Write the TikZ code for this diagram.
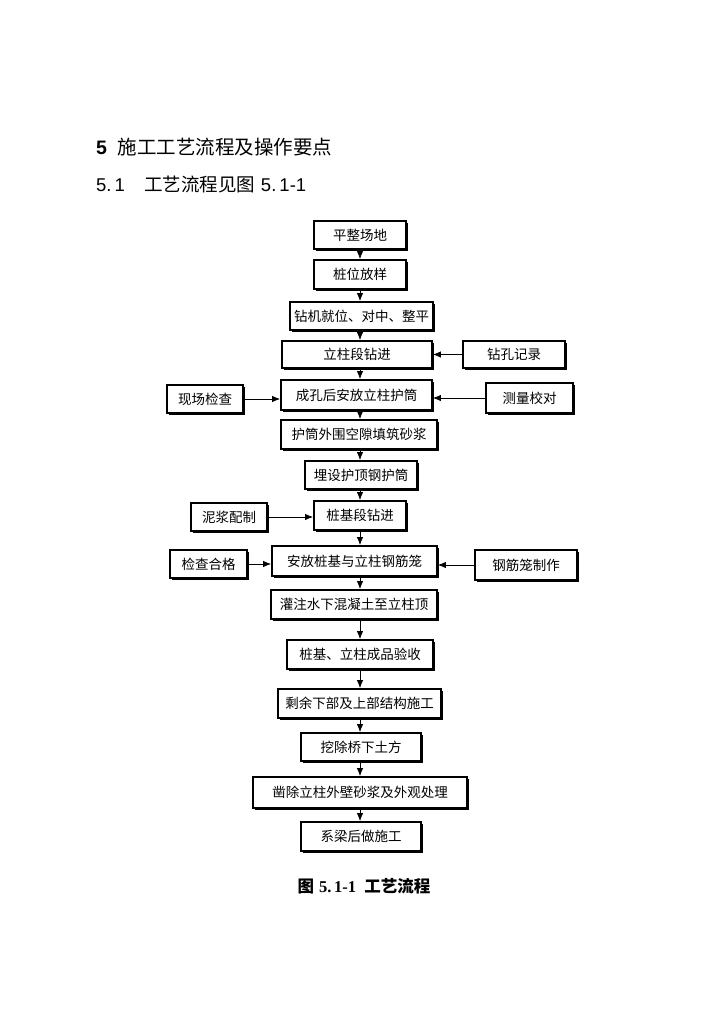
\documentclass[tikz,border=0pt]{standalone}
\usepackage{fontspec}
\setmainfont{Liberation Sans}
\newfontfamily\cjk{Noto Sans CJK SC}
\newfontfamily\serifdig{Liberation Serif}
\usetikzlibrary{shadows,arrows.meta}
\tikzset{
  box/.style={draw, line width=1.9pt, fill=white, inner sep=0pt,
    font=\cjk\fontsize{13.5}{15}\selectfont,
    drop shadow={shadow xshift=1.6pt, shadow yshift=-1.6pt, fill=black, opacity=1}},
  arr/.style={line width=0.8pt, -{Latex[length=8pt,width=6.5pt]}},
}
\newcommand\bx[6]{\node[box, minimum width={#4pt-#2pt}, minimum height={#5pt-#3pt}] (#1) at ({(#2+#4)/2},{(#3+#5)/2}) {#6};}
\begin{document}
\begin{tikzpicture}[x=1pt,y=-1pt]
\useasboundingbox[fill=white] (0,0) rectangle (724,1024);
% headings
\node[anchor=west, inner sep=0pt, font=\fontsize{19.5}{21}\selectfont] (h1) at (96,147) {\bfseries 5\hspace{0.55em}\mdseries\cjk 施工工艺流程及操作要点};
\node[anchor=west, inner sep=0pt, font=\fontsize{18.5}{20}\selectfont] (h2) at (96,184) {5.\,1\hspace{1.05em}{\cjk 工艺流程见图}\hspace{0.3em}5.\,1-1};
% main column
\bx{A}{314}{221}{406}{249}{平整场地}
\bx{B}{314}{260}{406}{289}{桩位放样}
\bx{C}{290}{302}{433}{330}{钻机就位、对中、整平}
\bx{D}{282}{341}{432}{368}{立柱段钻进}
\bx{E}{281}{380}{432}{410}{成孔后安放立柱护筒}
\bx{F}{281}{420}{437}{449}{护筒外围空隙填筑砂浆}
\bx{G}{305}{461}{417}{489}{埋设护顶钢护筒}
\bx{H}{314}{501}{406}{530}{桩基段钻进}
\bx{I}{272}{546}{437}{576}{安放桩基与立柱钢筋笼}
\bx{J}{271}{590}{437}{619}{灌注水下混凝土至立柱顶}
\bx{K}{287}{640}{433}{669}{桩基、立柱成品验收}
\bx{L}{278}{689}{441}{718}{剩余下部及上部结构施工}
\bx{M}{301}{733}{421}{761}{挖除桥下土方}
\bx{N}{253}{777}{467}{808}{凿除立柱外壁砂浆及外观处理}
\bx{O}{301}{822}{421}{851}{系梁后做施工}
% side boxes
\bx{S1}{463}{341}{565}{368}{钻孔记录}
\bx{S2}{167}{385}{243}{413}{现场检查}
\bx{S3}{486}{383}{573}{413}{测量校对}
\bx{S4}{191}{503}{267}{531}{泥浆配制}
\bx{S5}{170}{550}{247}{578}{检查合格}
\bx{S6}{475}{550}{577}{580}{钢筋笼制作}
% axis
\coordinate (ax) at (360,0);
\foreach \a/\b in {A/B,B/C,C/D,D/E,E/F,F/G,G/H,H/I,I/J,J/K,K/L,L/M,M/N,N/O}
  \draw[arr] (\a.south -| ax) -- (\b.north -| ax);
\draw[arr] (S1.west) -- (S1.west -| D.east);
\draw[arr] (S2.east) -- (S2.east -| E.west);
\draw[arr] (S3.west) -- (S3.west -| E.east);
\draw[arr] (S4.east) -- (S4.east -| H.west);
\draw[arr] (S5.east) -- (S5.east -| I.west);
\draw[arr] (S6.west) -- (S6.west -| I.east);
% caption
\node[inner sep=0pt, font=\fontsize{16.5}{18}\selectfont] (cap) at (364,886) {{\cjk\bfseries 图}\hspace{0.3em}{\serifdig\bfseries 5.\,1-1}\hspace{0.5em}{\cjk\bfseries 工艺流程}};
\end{tikzpicture}
\end{document}
